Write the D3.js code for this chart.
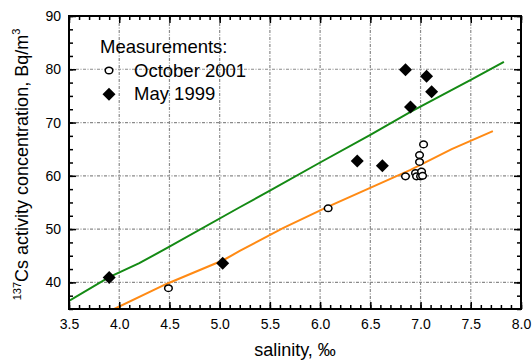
<!DOCTYPE html>
<html>
<head>
<meta charset="utf-8">
<script src="https://cdn.jsdelivr.net/npm/d3@7"></script>
<style>
  html, body { margin: 0; padding: 0; background: #fff; }
  svg { display: block; font-family: "Liberation Sans", Arial, sans-serif; }
</style>
</head>
<body>
<svg id="chart" width="532" height="360"></svg>
<script>
// 137Cs activity concentration vs. salinity

// May 1999 measurements (filled diamonds)
const may1999Salinity = [3.90, 5.03, 6.37, 6.62, 6.85, 6.90, 7.06, 7.11];
const may1999Cs       = [40.9, 43.6, 62.8, 61.9, 79.9, 72.9, 78.7, 75.8];

// October 2001 measurements (open circles)
const oct2001Salinity = [4.49, 6.08, 6.85, 6.95, 6.96, 7.00, 6.99, 6.99, 7.01, 7.02, 7.03];
const oct2001Cs       = [38.9, 53.9, 59.9, 60.5, 59.9, 59.9, 62.6, 63.9, 60.8, 60.0, 65.9];

// Model curve for May 1999 (green)
const curve1999Salinity = [3.50, 3.90, 4.20, 4.50, 5.20, 5.50, 6.00, 6.50, 6.90, 7.50, 7.83];
const curve1999Cs       = [36.5, 41.0, 43.6, 46.7, 54.1, 57.2, 62.5, 67.7, 72.0, 78.0, 81.4];

// Model curve for October 2001 (orange)
const curve2001Salinity = [3.95, 4.47, 5.04, 5.20, 5.63, 6.08, 6.90, 7.31, 7.72];
const curve2001Cs       = [35.0, 39.7, 44.2, 45.9, 50.2, 54.2, 61.1, 65.0, 68.4];

// Axis ticks
const xMajorTicks = [3.5, 4.0, 4.5, 5.0, 5.5, 6.0, 6.5, 7.0, 7.5, 8.0];
const yMajorTicks = [40, 50, 60, 70, 80, 90];
const xGrid = [4.0, 4.5, 5.0, 5.5, 6.0, 6.5, 7.0, 7.5];
const yGrid = [40, 50, 60, 70, 80];

const legendTitle = "Measurements:";
const legendLabels = ["October 2001", "May 1999"];

const svg = d3.select("#chart");
const plotLeft = 69, plotRight = 521, plotTop = 16, plotBottom = 309;

const x = d3.scaleLinear().domain([3.5, 8.0]).range([plotLeft, plotRight]);
const y = d3.scaleLinear().domain([35, 90]).range([plotBottom, plotTop]);

const xMinor = d3.range(35, 81).map(d => d / 10);
const yMinor = d3.range(0, 23).map(i => 35 + i * 2.5);

// dotted grid
const grid = svg.append("g").attr("stroke", "#8a8a8a").attr("stroke-width", 1.2)
  .attr("stroke-dasharray", "3,1.5,1,1.5").attr("fill", "none");
grid.selectAll("line.gx").data(xGrid).join("line").attr("class", "gx")
  .attr("x1", d => x(d)).attr("x2", d => x(d)).attr("y1", plotTop).attr("y2", plotBottom);
grid.selectAll("line.gy").data(yGrid).join("line").attr("class", "gy")
  .attr("x1", plotLeft).attr("x2", plotRight).attr("y1", d => y(d)).attr("y2", d => y(d));

// clip region for the curves
svg.append("defs").append("clipPath").attr("id", "plotClip")
  .append("rect").attr("x", plotLeft).attr("y", plotTop)
  .attr("width", plotRight - plotLeft).attr("height", plotBottom - plotTop);

const line = d3.line().x(d => x(d[0])).y(d => y(d[1]));
const plot = svg.append("g").attr("clip-path", "url(#plotClip)");
plot.append("path").datum(d3.zip(curve1999Salinity, curve1999Cs))
  .attr("d", line).attr("fill", "none").attr("stroke", "#148a14").attr("stroke-width", 2);
plot.append("path").datum(d3.zip(curve2001Salinity, curve2001Cs))
  .attr("d", line).attr("fill", "none").attr("stroke", "#ff8a14").attr("stroke-width", 2);

// markers
const diamondPath = "M0,-6.5L6.5,0L0,6.5L-6.5,0Z";
svg.append("g").selectAll("path").data(d3.zip(may1999Salinity, may1999Cs)).join("path")
  .attr("d", diamondPath)
  .attr("transform", d => `translate(${x(d[0])},${y(d[1])})`)
  .attr("fill", "#000");
svg.append("g").selectAll("ellipse").data(d3.zip(oct2001Salinity, oct2001Cs)).join("ellipse")
  .attr("cx", d => x(d[0])).attr("cy", d => y(d[1])).attr("rx", 3.8).attr("ry", 3.3)
  .attr("fill", "#fff").attr("stroke", "#000").attr("stroke-width", 1.5);

// axes, ticks pointing inward on all four sides
function styleAxis(g) {
  g.select(".domain").remove();
  g.selectAll("line").attr("stroke", "#000").attr("stroke-width", 1.5);
  g.selectAll("text").attr("fill", "#000").attr("font-size", 14)
    .attr("font-family", "Liberation Sans, Arial, sans-serif");
}
svg.append("g").attr("transform", `translate(0,${plotBottom})`)
  .call(d3.axisBottom(x).tickValues(xMinor).tickSize(-4).tickFormat(""))
  .call(styleAxis);
svg.append("g").attr("transform", `translate(0,${plotBottom})`)
  .call(d3.axisBottom(x).tickValues(xMajorTicks).tickSizeInner(-7).tickSizeOuter(0)
    .tickPadding(10).tickFormat(d3.format(".1f")))
  .call(styleAxis);
svg.append("g").attr("transform", `translate(0,${plotTop})`)
  .call(d3.axisTop(x).tickValues(xMinor).tickSize(-4).tickFormat(""))
  .call(styleAxis);
svg.append("g").attr("transform", `translate(0,${plotTop})`)
  .call(d3.axisTop(x).tickValues(xMajorTicks).tickSize(-7).tickFormat(""))
  .call(styleAxis);
svg.append("g").attr("transform", `translate(${plotLeft},0)`)
  .call(d3.axisLeft(y).tickValues(yMinor).tickSize(-4).tickFormat(""))
  .call(styleAxis);
svg.append("g").attr("transform", `translate(${plotLeft},0)`)
  .call(d3.axisLeft(y).tickValues(yMajorTicks).tickSizeInner(-7).tickSizeOuter(0)
    .tickPadding(8).tickFormat(d3.format("d")))
  .call(styleAxis);
svg.append("g").attr("transform", `translate(${plotRight},0)`)
  .call(d3.axisRight(y).tickValues(yMinor).tickSize(-4).tickFormat(""))
  .call(styleAxis);
svg.append("g").attr("transform", `translate(${plotRight},0)`)
  .call(d3.axisRight(y).tickValues(yMajorTicks).tickSize(-7).tickFormat(""))
  .call(styleAxis);

// frame
svg.append("rect").attr("x", plotLeft).attr("y", plotTop)
  .attr("width", plotRight - plotLeft).attr("height", plotBottom - plotTop)
  .attr("fill", "none").attr("stroke", "#000").attr("stroke-width", 2);

// axis titles
svg.append("text").attr("x", (plotLeft + plotRight) / 2).attr("y", 356)
  .attr("text-anchor", "middle").attr("font-size", 18).attr("fill", "#000")
  .text("salinity, \u2030");

const yTitle = svg.append("text")
  .attr("transform", `translate(28,${(plotTop + plotBottom) / 2 + 2}) rotate(-90)`)
  .attr("text-anchor", "middle").attr("font-size", 18).attr("fill", "#000");
yTitle.append("tspan").attr("font-size", 11).attr("dy", -7).text("137");
yTitle.append("tspan").attr("dy", 7).text("Cs activity concentration, Bq/m");
yTitle.append("tspan").attr("font-size", 11).attr("dy", -8).text("3");

// legend
const lg = svg.append("g");
lg.append("text").attr("x", 100).attr("y", 53).attr("font-size", 18.5).attr("fill", "#000").text(legendTitle);
lg.append("ellipse").attr("cx", 109).attr("cy", 70.5).attr("rx", 3.8).attr("ry", 3.3)
  .attr("fill", "#fff").attr("stroke", "#000").attr("stroke-width", 1.5);
lg.append("text").attr("x", 134).attr("y", 77).attr("font-size", 18.5).attr("fill", "#000").text(legendLabels[0]);
lg.append("path").attr("d", diamondPath).attr("transform", "translate(109,94.3)").attr("fill", "#000");
lg.append("text").attr("x", 134).attr("y", 100).attr("font-size", 18.5).attr("fill", "#000").text(legendLabels[1]);
</script>
</body>
</html>
